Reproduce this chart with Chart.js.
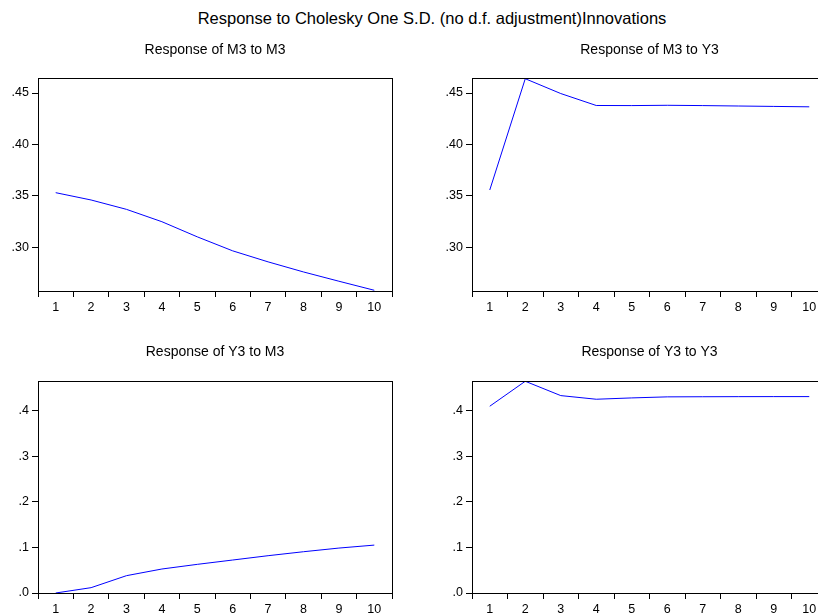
<!DOCTYPE html>
<html>
<head>
<meta charset="utf-8">
<script src="https://cdn.jsdelivr.net/npm/chart.js@4.4.0/dist/chart.umd.min.js"></script>
<style>
  html, body { margin:0; padding:0; width:818px; height:616px; overflow:hidden; background:#fff; }
  canvas { position:absolute; }
  #mainTitle { position:absolute; left:0; top:8px; width:864px; text-align:center;
    font-family:"Liberation Sans", Arial, sans-serif; font-size:16.5px; line-height:20px; color:#000; white-space:nowrap; }
</style>
</head>
<body>
<div id="mainTitle">Response to Cholesky One S.D. (no d.f. adjustment)Innovations</div>
<canvas id="c1" width="410" height="290" style="left:0px;top:30px"></canvas>
<canvas id="c2" width="420" height="290" style="left:420px;top:30px"></canvas>
<canvas id="c3" width="410" height="296" style="left:0px;top:320px"></canvas>
<canvas id="c4" width="420" height="296" style="left:420px;top:320px"></canvas>
<script>
// ---- data ----
const periods = ['1','2','3','4','5','6','7','8','9','10'];
const respM3toM3 = [0.3532, 0.3461, 0.3370, 0.3250, 0.3103, 0.2967, 0.2860, 0.2762, 0.2672, 0.2584];
const respM3toY3 = [0.3558, 0.4639, 0.4495, 0.4379, 0.4378, 0.4381, 0.4378, 0.4374, 0.4370, 0.4366];
const respY3toM3 = [0.0000, 0.0117, 0.0380, 0.0526, 0.0628, 0.0723, 0.0818, 0.0905, 0.0985, 0.1050];
const respY3toY3 = [0.4095, 0.4642, 0.4328, 0.4248, 0.4277, 0.4300, 0.4303, 0.4305, 0.4306, 0.4306];
const panelTitles = ['Response of M3 to M3', 'Response of M3 to Y3', 'Response of Y3 to M3', 'Response of Y3 to Y3'];
const yTicksTop = [0.30, 0.35, 0.40, 0.45];
const yTickLabelsTop = ['.30', '.35', '.40', '.45'];
const yTicksBottom = [0.0, 0.1, 0.2, 0.3, 0.4];
const yTickLabelsBottom = ['.0', '.1', '.2', '.3', '.4'];
const yRangeTop = [0.2577, 0.4646];
const yRangeBottom = [0.0, 0.4648];

const FONT = '"Liberation Sans", Arial, sans-serif';

const framePlugin = {
  id: 'frame',
  afterDatasetsDraw(chart) {
    const {ctx, chartArea: a} = chart;
    ctx.save();
    ctx.strokeStyle = '#000';
    ctx.lineWidth = 1;
    ctx.strokeRect(Math.round(a.left) + 0.5, Math.round(a.top) + 0.5,
                   Math.round(a.right - a.left), Math.round(a.bottom - a.top));
    ctx.restore();
  }
};

function makePanel(id, title, values, yRange, yTicks, yLabels, g) {
  // g: geometry {w, h, L, T, R, B, titleTop}
  const lh = 14 * 1.2;
  const pt = g.titleCenter - lh / 2;
  const pb = g.T - pt - lh;
  new Chart(document.getElementById(id), {
    type: 'line',
    data: {
      labels: periods,
      datasets: [{
        data: values,
        borderColor: '#0000ff',
        borderWidth: 1,
        pointRadius: 0,
        tension: 0,
        fill: false
      }]
    },
    options: {
      responsive: false,
      animation: false,
      devicePixelRatio: 1,
      layout: { padding: { left: 0, top: 0, right: g.w - g.R, bottom: 0 } },
      plugins: {
        legend: { display: false },
        tooltip: { enabled: false },
        title: {
          display: true,
          text: title,
          fullSize: false,
          color: '#000',
          font: { family: FONT, size: 14, weight: 'normal', lineHeight: 1.2 },
          padding: { top: pt, bottom: pb }
        }
      },
      scales: {
        x: {
          type: 'category',
          offset: true,
          grid: { offset: true, drawOnChartArea: false, drawTicks: true, tickLength: 6, color: '#000', lineWidth: 1 },
          border: { display: false },
          ticks: { color: '#000', font: { family: FONT, size: 12.5 }, padding: 3, maxRotation: 0, autoSkip: false },
          afterFit: (s) => { s.height = g.h - g.B; }
        },
        y: {
          type: 'linear',
          min: yRange[0],
          max: yRange[1],
          grid: { drawOnChartArea: false, drawTicks: true, tickLength: 6, color: '#000', lineWidth: 1 },
          border: { display: false },
          afterBuildTicks: (s) => { s.ticks = yTicks.map(v => ({ value: v })); },
          ticks: {
            color: '#000', font: { family: FONT, size: 12.5 }, padding: 3,
            callback: (v, i) => yLabels[i]
          },
          afterFit: (s) => { s.width = g.L; }
        }
      }
    },
    plugins: [framePlugin]
  });
}

makePanel('c1', panelTitles[0], respM3toM3, yRangeTop, yTicksTop, yTickLabelsTop,
  { w: 410, h: 290, L: 38, T: 48, R: 392, B: 261, titleCenter: 20.3 });
makePanel('c2', panelTitles[1], respM3toY3, yRangeTop, yTicksTop, yTickLabelsTop,
  { w: 420, h: 290, L: 52, T: 48, R: 407, B: 261, titleCenter: 20.3 });
makePanel('c3', panelTitles[2], respY3toM3, yRangeBottom, yTicksBottom, yTickLabelsBottom,
  { w: 410, h: 296, L: 38, T: 61, R: 392, B: 273, titleCenter: 32 });
makePanel('c4', panelTitles[3], respY3toY3, yRangeBottom, yTicksBottom, yTickLabelsBottom,
  { w: 420, h: 296, L: 52, T: 61, R: 407, B: 273, titleCenter: 32 });
</script>
</body>
</html>
